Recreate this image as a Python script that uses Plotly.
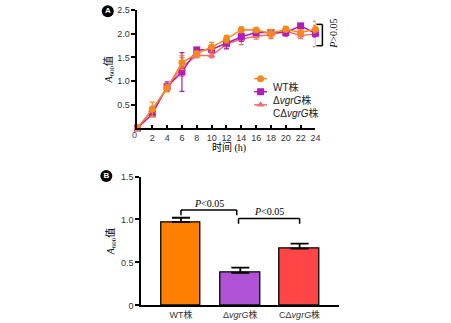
import plotly.graph_objects as go

# ---------------- data ----------------
hours = [0, 2, 4, 6, 8, 10, 12, 14, 16, 18, 20, 22, 24]

wt_mean = [0.0, 0.40, 0.85, 1.39, 1.58, 1.72, 1.89, 2.09, 2.08, 2.01, 2.10, 2.03, 2.10]
wt_err = [0.0, 0.15, 0.08, 0.15, 0.05, 0.10, 0.08, 0.06, 0.05, 0.08, 0.06, 0.05, 0.08]

dv_mean = [0.0, 0.30, 0.88, 1.19, 1.66, 1.67, 1.80, 1.94, 2.03, 2.03, 2.03, 2.17, 2.01]
dv_err = [0.0, 0.05, 0.10, 0.41, 0.05, 0.05, 0.12, 0.10, 0.06, 0.06, 0.08, 0.05, 0.08]

cdv_mean = [0.0, 0.38, 0.85, 1.30, 1.54, 1.54, 1.78, 1.89, 1.95, 1.98, 2.06, 1.96, 2.00]
cdv_err = [0.0, 0.08, 0.06, 0.20, 0.05, 0.05, 0.08, 0.12, 0.06, 0.08, 0.08, 0.06, 0.27]

strains = ["WT株", "Δ<i>vgrG</i>株", "CΔ<i>vgrG</i>株"]
bar_vals = [0.97, 0.38, 0.66]
bar_errs = [0.05, 0.06, 0.06]

a_yticks = [0.5, 1.0, 1.5, 2.0, 2.5]
a_xticks = list(range(2, 25, 2))
b_yticks = [0, 0.5, 1.0, 1.5]

# ---------------- styling ----------------
W, H = 451, 323
FONT = "Liberation Sans, Arial, Noto Sans CJK SC, sans-serif"
SERIF = "Liberation Serif, Noto Sans CJK SC, serif"
TICK = "#333333"

C_WT_LINE, C_DV_LINE, C_CDV_LINE = "#F5891F", "#B21EB5", "#F0706E"
C_WT_BAR, C_DV_BAR, C_CDV_BAR = "#FF8000", "#B052D6", "#FF4545"

# pixel frame of the two panels
A_X = (139, 319)      # hours 0..24
A_Y = (127, 5.5)      # A600 0..2.5
B_X = (143, 343)
B_Y = (310, 177)      # A600 0..1.5
B_RANGE = [-0.667, 2.667]


def px(x):
    return x / W


def py(y):
    return 1 - y / H


fig = go.Figure()

series = [
    ("CΔvgrG株", cdv_mean, cdv_err, C_CDV_LINE, "triangle-up"),
    ("ΔvgrG株", dv_mean, dv_err, C_DV_LINE, "square"),
    ("WT株", wt_mean, wt_err, C_WT_LINE, "circle"),
]
for name, mean, err, col, sym in series:
    fig.add_trace(go.Scatter(
        x=hours, y=mean, mode="lines+markers", name=name,
        line=dict(color=col, width=1.5),
        marker=dict(color=col, symbol=sym, size=7),
        error_y=dict(type="data", array=err, color=col, thickness=1.2, width=2.5),
        xaxis="x", yaxis="y", showlegend=False, cliponaxis=False,
    ))

# bars
fig.add_trace(go.Bar(
    x=[0, 1, 2], y=bar_vals,
    marker=dict(color=[C_WT_BAR, C_DV_BAR, C_CDV_BAR], line=dict(color="black", width=1.3)),
    width=0.667,
    error_y=dict(type="data", array=bar_errs, arrayminus=[0, 0, 0], symmetric=False,
                 color="black", thickness=1.8, width=9),
    xaxis="x2", yaxis="y2", showlegend=False,
))

# carrier for the side axis that holds the P>0.05 label
fig.add_trace(go.Scatter(x=[], y=[], xaxis="x", yaxis="y4", showlegend=False))

# legend glyphs on a pixel-coordinate overlay
legend_rows = [
    ("WT株", C_WT_LINE, "circle", 76),
    ("Δ<i>vgrG</i>株", C_DV_LINE, "square", 89.5),
    ("CΔ<i>vgrG</i>株", C_CDV_LINE, "triangle-up", 103),
]
for label, col, sym, yy in legend_rows:
    fig.add_trace(go.Scatter(
        x=[257, 270], y=[yy, yy], mode="lines", line=dict(color=col, width=1.5),
        xaxis="x3", yaxis="y3", showlegend=False, hoverinfo="skip",
    ))
    fig.add_trace(go.Scatter(
        x=[263.5], y=[yy], mode="markers", marker=dict(color=col, symbol=sym, size=7),
        xaxis="x3", yaxis="y3", showlegend=False, hoverinfo="skip",
    ))

# panel badges (black discs with white letters)
badges = [("A", 109, 6.5), ("B", 107.5, 176.5)]
fig.add_trace(go.Scatter(
    x=[b[1] for b in badges], y=[b[2] for b in badges], mode="markers+text",
    text=[f"<b>{b[0]}</b>" for b in badges], textposition="middle center",
    textfont=dict(family=FONT, size=8, color="white"),
    marker=dict(color="black", size=12, line=dict(width=0)),
    xaxis="x3", yaxis="y3", showlegend=False, hoverinfo="skip",
))

axis_common = dict(showline=True, linecolor="black", linewidth=2, showgrid=False,
                   zeroline=False, tickfont=dict(family=FONT, size=9, color=TICK))
ytitle = dict(text="<i>A</i><sub>600</sub>值", font=dict(family=SERIF, size=10))

fig.update_layout(
    width=W, height=H, margin=dict(l=0, r=0, t=0, b=0),
    paper_bgcolor="white", plot_bgcolor="rgba(0,0,0,0)",
    font=dict(family=FONT, color="black"),
    xaxis=dict(domain=[px(A_X[0]), px(A_X[1])], range=[0, 24], anchor="y",
               tickvals=a_xticks, ticks="inside", ticklen=3, tickwidth=1.5, tickcolor="black",
               **axis_common),
    yaxis=dict(domain=[py(A_Y[0]), py(A_Y[1])], range=[0, 2.5], anchor="x",
               tickvals=a_yticks, ticktext=[f"{v:.1f}" for v in a_yticks],
               ticks="outside", ticklen=4, tickwidth=1.5, tickcolor="black",
               title=dict(ytitle, standoff=3), **axis_common),
    yaxis4=dict(domain=[py(43), py(15)], anchor="free", position=px(326), side="right",
                range=[0, 1], showline=False, showgrid=False, zeroline=False,
                showticklabels=False, ticks="",
                title=dict(text="<i>P</i>>0.05", standoff=7,
                           font=dict(family="Liberation Serif, serif", size=10))),
    xaxis2=dict(domain=[px(B_X[0]), px(B_X[1])], range=B_RANGE, anchor="y2",
                tickvals=[0, 1, 2], ticktext=strains, ticks="", **axis_common),
    yaxis2=dict(domain=[py(B_Y[0]), py(B_Y[1])], range=[0, 1.5], anchor="x2",
                tickvals=b_yticks, ticktext=["0", "0.5", "1.0", "1.5"],
                ticks="outside", ticklen=4, tickwidth=1.5, tickcolor="black",
                title=dict(ytitle, standoff=5), **axis_common),
    xaxis3=dict(domain=[0, 1], range=[0, W], visible=False, fixedrange=True, anchor="y3"),
    yaxis3=dict(domain=[0, 1], range=[H, 0], visible=False, fixedrange=True, anchor="x3"),
    bargap=0,
)

ann = []
shapes = []

ann.append(dict(x=px(232), y=py(147), xref="paper", yref="paper", showarrow=False,
                text="时间 (h)", font=dict(family=SERIF, size=10)))
# origin label of panel A
ann.append(dict(x=px(131.5), y=py(134.5), xref="paper", yref="paper", showarrow=False,
                text="0", font=dict(family=FONT, size=9, color="#3a4a66")))

# legend labels
for label, col, sym, yy in legend_rows:
    ann.append(dict(x=px(274), y=py(yy), xref="paper", yref="paper", showarrow=False,
                    xanchor="left", text=label, font=dict(family=FONT, size=10, color="#222")))

# significance bracket, panel A (right side)
bx, by0, by1 = 326, 20, 42
for seg in [(bx, by0, bx, by1), (bx - 6, by0, bx, by0), (bx - 6, by1, bx, by1)]:
    shapes.append(dict(type="line", xref="paper", yref="paper",
                       x0=px(seg[0]), y0=py(seg[1]), x1=px(seg[2]), y1=py(seg[3]),
                       line=dict(color="black", width=1.5)))

# significance brackets, panel B
for (xa, xb, ytop, yleg, ylab) in [(0, 0.94, 1.11, 1.05, 1.185), (0.97, 2.0, 1.01, 0.95, 1.09)]:
    for seg in [(xa, ytop, xb, ytop), (xa, ytop, xa, yleg), (xb, ytop, xb, yleg)]:
        shapes.append(dict(type="line", xref="x2", yref="y2",
                           x0=seg[0], y0=seg[1], x1=seg[2], y1=seg[3],
                           line=dict(color="black", width=1.5)))
    ann.append(dict(x=(xa + xb) / 2, y=ylab, xref="x2", yref="y2", showarrow=False,
                    text="<i>P</i><0.05", font=dict(family="Liberation Serif, serif", size=10)))

fig.update_layout(annotations=ann, shapes=shapes)
fig.write_html("out.html")
